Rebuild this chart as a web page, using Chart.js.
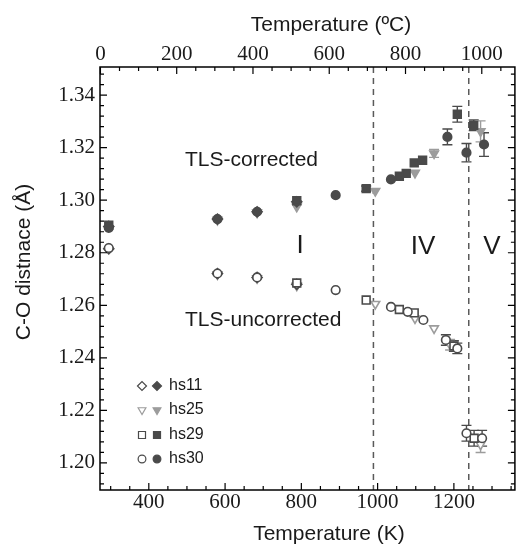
<!DOCTYPE html>
<html>
<head>
<meta charset="utf-8">
<script src="https://cdn.jsdelivr.net/npm/chart.js@4.4.0/dist/chart.umd.min.js"></script>
<style>
  html, body { margin: 0; padding: 0; background: #fff; }
  #wrap { width: 522px; height: 546px; }
</style>
</head>
<body>
<div id="wrap"><canvas id="chart"></canvas></div>
<script>
// TLS-corrected (filled markers)
const hs11CorrT = [295, 580, 684, 788];
const hs11Corr = [1.2900, 1.2928, 1.2956, 1.2994];
const hs25CorrT = [580, 684, 788, 994, 1098, 1148, 1270];
const hs25Corr = [1.2925, 1.2953, 1.2975, 1.3035, 1.3104, 1.3178, 1.3262];
const hs25CorrErr = [0, 0, 0, 0, 0, 0.0015, 0.004];
const hs29CorrT = [295, 788, 970, 1057, 1075, 1096, 1118, 1209, 1252];
const hs29Corr = [1.2905, 1.2998, 1.3044, 1.3091, 1.3102, 1.3142, 1.3152, 1.3327, 1.3285];
const hs29CorrErr = [0, 0, 0.001, 0, 0, 0, 0, 0.003, 0.002];
const hs30CorrT = [295, 580, 684, 890, 1035, 1183, 1233, 1279];
const hs30Corr = [1.2895, 1.2928, 1.2956, 1.3019, 1.3079, 1.3241, 1.3181, 1.3212];
const hs30CorrErr = [0, 0, 0, 0, 0, 0.003, 0.0035, 0.0045];

// TLS-uncorrected (open markers)
const hs11UncT = [295, 580, 684, 788];
const hs11Unc = [1.2815, 1.2721, 1.2706, 1.2680];
const hs25UncT = [580, 684, 788, 994, 1098, 1148, 1190, 1270];
const hs25Unc = [1.2718, 1.2703, 1.2675, 1.2605, 1.2550, 1.2512, 1.2450, 1.2070];
const hs25UncErr = [0, 0, 0, 0, 0, 0, 0.002, 0.003];
const hs29UncT = [788, 970, 1057, 1096, 1200, 1253];
const hs29Unc = [1.2685, 1.2620, 1.2584, 1.2571, 1.2445, 1.2094];
const hs29UncErr = [0, 0, 0, 0, 0.002, 0.003];
const hs30UncT = [295, 580, 684, 890, 1035, 1079, 1120, 1179, 1209, 1233, 1274];
const hs30Unc = [1.2818, 1.2721, 1.2706, 1.2658, 1.2594, 1.2575, 1.2544, 1.2468, 1.2436, 1.2113, 1.2094];
const hs30UncErr = [0, 0, 0, 0, 0, 0, 0, 0.002, 0.002, 0.003, 0.003];

const kTicks = [400, 600, 800, 1000, 1200];
const cTicks = [0, 200, 400, 600, 800, 1000];
const yTicks = [1.20, 1.22, 1.24, 1.26, 1.28, 1.30, 1.32, 1.34];
const phaseLines = [989, 1239];

const dark = "#4a4a4a";
const light = "#9c9c9c";
const serif = "'Liberation Serif', 'Times New Roman', serif";
const sans = "'Liberation Sans', Arial, sans-serif";

const styles = {
  hs11: { pointStyle: "rectRot", r: 5, rot: 0, color: dark },
  hs25: { pointStyle: "triangle", r: 5, rot: 180, color: light },
  hs29: { pointStyle: "rect", r: 5.5, rot: 0, color: dark },
  hs30: { pointStyle: "circle", r: 4.3, rot: 0, color: dark },
};

function pts(xs, ys) {
  return xs.map((x, i) => ({ x: x, y: ys[i] }));
}

function ds(name, xs, ys, errs, filled) {
  const s = styles[name];
  return {
    label: name + (filled ? " corrected" : " uncorrected"),
    data: pts(xs, ys),
    errs: errs || [],
    showLine: false,
    pointStyle: s.pointStyle,
    pointRotation: s.rot,
    pointRadius: s.r,
    pointHoverRadius: s.r,
    pointBorderWidth: 1.6,
    pointBorderColor: s.color,
    pointBackgroundColor: filled ? s.color : "#fff",
  };
}

const datasets = [
  ds("hs30", hs30CorrT, hs30Corr, hs30CorrErr, true),
  ds("hs29", hs29CorrT, hs29Corr, hs29CorrErr, true),
  ds("hs11", hs11CorrT, hs11Corr, null, true),
  ds("hs25", hs25CorrT, hs25Corr, hs25CorrErr, true),
  ds("hs30", hs30UncT, hs30Unc, hs30UncErr, false),
  ds("hs29", hs29UncT, hs29Unc, hs29UncErr, false),
  ds("hs11", hs11UncT, hs11Unc, null, false),
  ds("hs25", hs25UncT, hs25Unc, hs25UncErr, false),
];

function range(a, b, step) {
  const out = [];
  for (let v = a; v <= b + 1e-9; v += step) out.push(+v.toFixed(4));
  return out;
}

// dashed phase lines + error bars under the markers
const underlay = {
  id: "underlay",
  beforeDatasetsDraw(chart) {
    const { ctx, chartArea: a, scales } = chart;
    ctx.save();
    ctx.strokeStyle = "#5a5a5a";
    ctx.lineWidth = 1.5;
    ctx.setLineDash([6, 5]);
    phaseLines.forEach((k) => {
      const x = scales.x.getPixelForValue(k);
      ctx.beginPath();
      ctx.moveTo(x, a.top);
      ctx.lineTo(x, a.bottom);
      ctx.stroke();
    });
    ctx.setLineDash([]);
    chart.data.datasets.forEach((d, i) => {
      const meta = chart.getDatasetMeta(i);
      ctx.strokeStyle = d.pointBorderColor;
      ctx.lineWidth = 1.4;
      d.errs.forEach((e, j) => {
        if (!e) return;
        const x = meta.data[j].x;
        const y1 = scales.y.getPixelForValue(d.data[j].y - e);
        const y2 = scales.y.getPixelForValue(d.data[j].y + e);
        ctx.beginPath();
        ctx.moveTo(x, y1); ctx.lineTo(x, y2);
        ctx.moveTo(x - 5, y1); ctx.lineTo(x + 5, y1);
        ctx.moveTo(x - 5, y2); ctx.lineTo(x + 5, y2);
        ctx.stroke();
      });
    });
    ctx.restore();
  },
};

// frame, inward ticks, titles, labels, legend
const overlay = {
  id: "overlay",
  afterDraw(chart) {
    const { ctx, chartArea: a, scales } = chart;
    ctx.save();
    ctx.strokeStyle = "#000";
    ctx.lineWidth = 1.5;
    ctx.strokeRect(a.left, a.top, a.right - a.left, a.bottom - a.top);

    ctx.lineWidth = 1.2;
    ctx.beginPath();
    range(300, 1350, 50).forEach((k) => {
      const x = scales.x.getPixelForValue(k);
      const len = k % 200 === 0 ? 7 : 4;
      ctx.moveTo(x, a.bottom); ctx.lineTo(x, a.bottom - len);
    });
    range(0, 1050, 50).forEach((c) => {
      const x = scales.x2.getPixelForValue(c);
      const len = c % 200 === 0 ? 7 : 4;
      ctx.moveTo(x, a.top); ctx.lineTo(x, a.top + len);
    });
    range(1.192, 1.348, 0.004).forEach((v) => {
      const y = scales.y.getPixelForValue(v);
      const major = Math.abs(Math.round(v * 50) - v * 50) < 1e-6;
      const len = major ? 7 : 4;
      ctx.moveTo(a.left, y); ctx.lineTo(a.left + len, y);
      ctx.moveTo(a.right, y); ctx.lineTo(a.right - len, y);
    });
    ctx.stroke();

    ctx.fillStyle = "#1a1a1a";
    ctx.textAlign = "center";
    ctx.textBaseline = "middle";
    ctx.font = "21px " + sans;
    ctx.fillText("Temperature (ºC)", 331, 25);
    ctx.fillText("Temperature (K)", 329, 534);
    ctx.save();
    ctx.translate(24, 262);
    ctx.rotate(-Math.PI / 2);
    ctx.fillText("C-O distnace (Å)", 0, 0);
    ctx.restore();

    ctx.textAlign = "left";
    ctx.fillText("TLS-corrected", 185, 160);
    ctx.fillText("TLS-uncorrected", 185, 320);
    ctx.textAlign = "center";
    ctx.font = "26px " + sans;
    ctx.fillText("I", 300, 246);
    ctx.fillText("IV", 423, 247);
    ctx.fillText("V", 492, 247);

    // legend: open + filled marker per sample
    const rows = [["hs11", 386], ["hs25", 410], ["hs29", 435], ["hs30", 459]];
    ctx.font = "16px " + sans;
    ctx.textAlign = "left";
    rows.forEach(([name, y]) => {
      const s = styles[name];
      const opt = { pointStyle: s.pointStyle, radius: s.r * 0.9, rotation: s.rot, borderWidth: 1.3 };
      ctx.strokeStyle = s.color;
      ctx.fillStyle = "#fff";
      Chart.helpers.drawPoint(ctx, opt, 142, y);
      ctx.fillStyle = s.color;
      Chart.helpers.drawPoint(ctx, opt, 157, y);
      ctx.fillStyle = "#1a1a1a";
      ctx.fillText(name, 169, y);
    });
    ctx.restore();
  },
};

const tickFont = { family: serif, size: 21, lineHeight: 1 };

new Chart(document.getElementById("chart"), {
  type: "scatter",
  data: { datasets: datasets },
  options: {
    responsive: true,
    maintainAspectRatio: false,
    animation: false,
    layout: { padding: { left: 0, right: 4, top: 0, bottom: 0 } },
    plugins: { legend: { display: false }, tooltip: { enabled: false } },
    scales: {
      x: {
        type: "linear",
        position: "bottom",
        min: 272,
        max: 1360,
        afterBuildTicks: (s) => { s.ticks = kTicks.map((v) => ({ value: v })); },
        afterFit: (s) => { s.height = 56; },
        grid: { display: false, drawTicks: false },
        border: { display: false },
        ticks: { font: tickFont, color: "#1a1a1a", padding: 2, maxRotation: 0, callback: (v) => String(v) },
      },
      x2: {
        type: "linear",
        position: "top",
        min: 272 - 273.15,
        max: 1360 - 273.15,
        afterBuildTicks: (s) => { s.ticks = cTicks.map((v) => ({ value: v })); },
        afterFit: (s) => { s.height = 67; },
        grid: { display: false, drawTicks: false },
        border: { display: false },
        ticks: { font: tickFont, color: "#1a1a1a", padding: 2, maxRotation: 0, callback: (v) => String(v) },
      },
      y: {
        type: "linear",
        min: 1.1897,
        max: 1.3507,
        afterBuildTicks: (s) => { s.ticks = yTicks.map((v) => ({ value: v })); },
        afterFit: (s) => { s.width = 100; },
        grid: { display: false, drawTicks: false },
        border: { display: false },
        ticks: { font: tickFont, color: "#1a1a1a", padding: 5, callback: (v) => v.toFixed(2) },
      },
    },
  },
  plugins: [underlay, overlay],
});
</script>
</body>
</html>
